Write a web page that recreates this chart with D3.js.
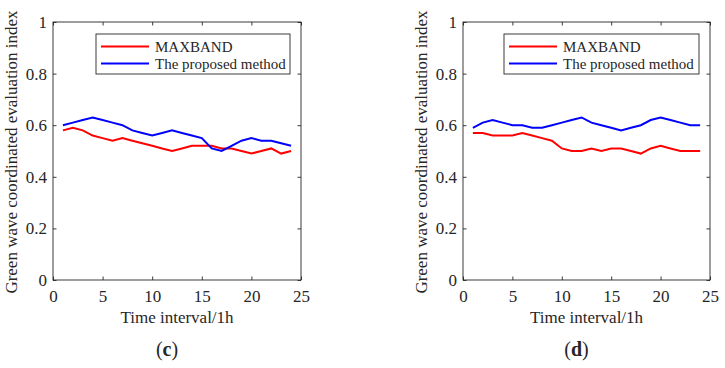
<!DOCTYPE html>
<html><head><meta charset="utf-8">
<script src="https://cdn.jsdelivr.net/npm/d3@7"></script>
<style>body{margin:0;background:#fff}svg{display:block}text{font-family:"Liberation Serif","Times New Roman",serif;fill:#262626}</style>
</head><body>
<svg id="c" width="725" height="368"></svg>
<script>
const hours = d3.range(1, 25);
const xTicks = [0, 5, 10, 15, 20, 25];
const yTicks = [0, 0.2, 0.4, 0.6, 0.8, 1];
const seriesNames = ["MAXBAND", "The proposed method"];
const seriesColors = ["#ff0000", "#0000ff"];
const maxbandC = [0.58,0.59,0.58,0.56,0.55,0.54,0.55,0.54,0.53,0.52,0.51,0.50,0.51,0.52,0.52,0.52,0.51,0.51,0.50,0.49,0.50,0.51,0.49,0.50];
const proposedC = [0.60,0.61,0.62,0.63,0.62,0.61,0.60,0.58,0.57,0.56,0.57,0.58,0.57,0.56,0.55,0.51,0.50,0.52,0.54,0.55,0.54,0.54,0.53,0.52];
const maxbandD = [0.57,0.57,0.56,0.56,0.56,0.57,0.56,0.55,0.54,0.51,0.50,0.50,0.51,0.50,0.51,0.51,0.50,0.49,0.51,0.52,0.51,0.50,0.50,0.50];
const proposedD = [0.59,0.61,0.62,0.61,0.60,0.60,0.59,0.59,0.60,0.61,0.62,0.63,0.61,0.60,0.59,0.58,0.59,0.60,0.62,0.63,0.62,0.61,0.60,0.60];

(function(){
const svg = d3.select("#c");
const panels = [
  {label:"c", left:53, right:301, series:[maxbandC, proposedC], leg:{x0:96, x1:290}},
  {label:"d", left:463, right:710, series:[maxbandD, proposedD], leg:{x0:504, x1:699}}
];
const pTop = 22, pBottom = 280;
const axisColor = "#262626";

panels.forEach(p => {
  const g = svg.append("g");
  const x = d3.scaleLinear().domain([0,25]).range([p.left, p.right]);
  const y = d3.scaleLinear().domain([0,1]).range([pBottom, pTop]);
  g.append("rect").attr("x", p.left).attr("y", pTop).attr("width", p.right-p.left).attr("height", pBottom-pTop)
    .attr("fill","none").attr("stroke", axisColor).attr("stroke-width", 0.9);
  const ax = g.append("g").attr("transform", `translate(0,${pBottom})`)
    .call(d3.axisBottom(x).tickValues(xTicks).tickSize(-3.5).tickPadding(10).tickFormat(d3.format("d")));
  const axT = g.append("g").attr("transform", `translate(0,${pTop})`)
    .call(d3.axisTop(x).tickValues(xTicks).tickSize(-3.5).tickFormat(""));
  const ay = g.append("g").attr("transform", `translate(${p.left},0)`)
    .call(d3.axisLeft(y).tickValues(yTicks).tickSize(-3.5).tickPadding(6).tickFormat(d => d === 0 || d === 1 ? d3.format("d")(d) : d3.format(".1f")(d)));
  const ayR = g.append("g").attr("transform", `translate(${p.right},0)`)
    .call(d3.axisRight(y).tickValues(yTicks).tickSize(-3.5).tickFormat(""));
  [ax, axT, ay, ayR].forEach(a => {
    a.select(".domain").remove();
    a.selectAll(".tick line").attr("stroke", axisColor).attr("stroke-width", 0.9);
    a.selectAll("text").style("font-size","17px").attr("fill", axisColor);
  });
  const line = d3.line().x((d,i) => x(hours[i])).y(d => y(d));
  p.series.forEach((s, k) => {
    g.append("path").datum(s).attr("d", line).attr("fill","none")
      .attr("stroke", seriesColors[k]).attr("stroke-width", 2);
  });
  const lg = g.append("g");
  lg.append("rect").attr("x", p.leg.x0).attr("y", 34).attr("width", p.leg.x1 - p.leg.x0).attr("height", 40)
    .attr("fill","#fff").attr("stroke", axisColor).attr("stroke-width", 0.9);
  seriesNames.forEach((n, k) => {
    const yy = 46.5 + k*17;
    lg.append("line").attr("x1", p.leg.x0 + 5).attr("x2", p.leg.x0 + 53).attr("y1", yy).attr("y2", yy)
      .attr("stroke", seriesColors[k]).attr("stroke-width", 2);
    lg.append("text").attr("x", p.leg.x0 + 59).attr("y", yy + 5).style("font-size","15px").text(n);
  });
  const cx = (p.left + p.right)/2;
  g.append("text").attr("x", cx).attr("y", 323).attr("text-anchor","middle").style("font-size","17px").text("Time interval/1h");
  g.append("text").attr("transform", `translate(${p.left - 36},${(pTop+pBottom)/2 + 1}) rotate(-90)`)
    .attr("text-anchor","middle").style("font-size","17px").text("Green wave coordinated evaluation index");
  const t = g.append("text").attr("x", cx - 10).attr("y", 356).attr("text-anchor","middle").style("font-size","20px");
  t.append("tspan").text("(");
  t.append("tspan").style("font-weight","bold").text(p.label);
  t.append("tspan").text(")");
});
})();
</script>
</body></html>
